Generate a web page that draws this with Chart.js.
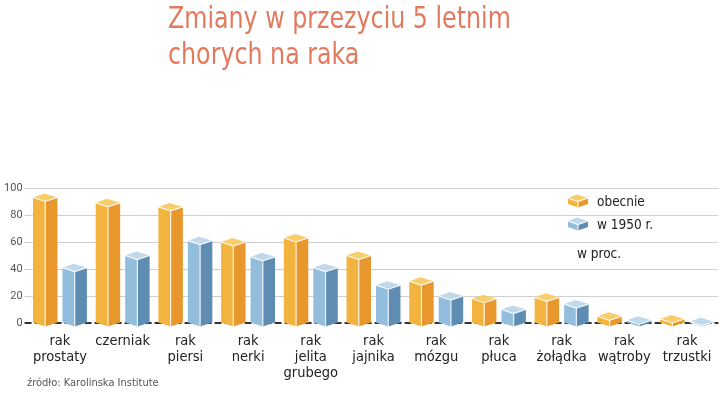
<!DOCTYPE html>
<html>
<head>
<meta charset="utf-8">
<script src="https://cdn.jsdelivr.net/npm/chart.js"></script>
<style>
  body { margin: 0; background: #fff; }
  #wrap { position: relative; width: 720px; height: 394px; }
  canvas { position: absolute; left: 0; top: 0; }
  #title {
    position: absolute; left: 168px; top: 0px;
    font: 30px/36px 'Liberation Sans Narrow', 'DejaVu Sans Condensed', Roboto, sans-serif;
    color: #e27a5e;
    transform: scaleX(0.88); transform-origin: left top;
    white-space: nowrap;
  }
  #src {
    position: absolute; left: 27px; top: 376px;
    font: 11px 'Liberation Sans Narrow', 'DejaVu Sans Condensed', Roboto, sans-serif;
    color: #555;
  }
</style>
</head>
<body>
<div id="wrap">
  <canvas id="chart" width="720" height="394"></canvas>
  <div id="title">Zmiany w przezyciu 5 letnim<br>chorych na raka</div>
  <div id="src">źródło: Karolinska Institute</div>
</div>
<script>
// dane
const categories = [['rak', 'prostaty'], 'czerniak', ['rak', 'piersi'], ['rak', 'nerki'],
  ['rak', 'jelita', 'grubego'], ['rak', 'jajnika'], ['rak', 'mózgu'], ['rak', 'płuca'],
  ['rak', 'żołądka'], ['rak', 'wątroby'], ['rak', 'trzustki']];
const obecnie = [93, 89, 86, 60, 63, 50, 31, 18, 19, 5, 3];
const w1950 = [41, 50, 61, 49, 41, 28, 20, 10, 14, 2, 1];
const yTicks = [0, 20, 40, 60, 80, 100];
const seriesNames = ['obecnie', 'w 1950 r.'];
const unitLabel = 'w proc.';

const narrow = "'Liberation Sans Narrow', 'DejaVu Sans Condensed', Roboto, sans-serif";

// kolory ścian: lewa, prawa, góra
const orangeFaces = ['#f3b33f', '#e8972c', '#f8cd6c'];
const blueFaces = ['#93bddc', '#5f8cb2', '#c0d8eb'];

// rysuje słupek 3D
function drawPrism(ctx, cx, w, top, base, d, faces) {
  const L = cx - w / 2, R = cx + w / 2;
  ctx.save();
  ctx.fillStyle = faces[0];
  ctx.beginPath();
  ctx.moveTo(L, top); ctx.lineTo(cx, top + d); ctx.lineTo(cx, base + d); ctx.lineTo(L, base);
  ctx.closePath(); ctx.fill();
  ctx.fillStyle = faces[1];
  ctx.beginPath();
  ctx.moveTo(cx, top + d); ctx.lineTo(R, top); ctx.lineTo(R, base); ctx.lineTo(cx, base + d);
  ctx.closePath(); ctx.fill();
  ctx.fillStyle = faces[2];
  ctx.beginPath();
  ctx.moveTo(L, top); ctx.lineTo(cx - 1, top - d); ctx.lineTo(R, top); ctx.lineTo(cx, top + d);
  ctx.closePath(); ctx.fill();
  // białe krawędzie
  ctx.strokeStyle = 'rgba(255,255,255,0.85)';
  ctx.lineWidth = 1.2;
  ctx.beginPath();
  ctx.moveTo(L, top); ctx.lineTo(cx, top + d); ctx.lineTo(R, top);
  ctx.moveTo(cx, top + d); ctx.lineTo(cx, base + d);
  ctx.stroke();
  ctx.restore();
}

const prismPlugin = {
  id: 'prism',
  beforeDatasetsDraw(chart) {
    // przerywana linia zera
    const ctx = chart.ctx;
    const y0 = chart.scales.y.getPixelForValue(0);
    ctx.save();
    ctx.strokeStyle = '#333';
    ctx.lineWidth = 2;
    ctx.setLineDash([7, 3]);
    ctx.beginPath();
    ctx.moveTo(chart.chartArea.left - 4, y0);
    ctx.lineTo(chart.chartArea.right, y0);
    ctx.stroke();
    ctx.restore();
  },
  afterDatasetsDraw(chart) {
    const ctx = chart.ctx;
    chart.data.datasets.forEach((ds, i) => {
      chart.getDatasetMeta(i).data.forEach(bar => {
        drawPrism(ctx, bar.x, bar.width, bar.y, bar.base, 4, ds.faces);
      });
    });
  },
  afterDraw(chart) {
    // legenda
    const ctx = chart.ctx;
    const facesList = [orangeFaces, blueFaces];
    ctx.save();
    ctx.font = '13.5px ' + narrow;
    ctx.fillStyle = '#222';
    ctx.textBaseline = 'middle';
    seriesNames.forEach((name, i) => {
      const cy = 202 + i * 23;
      drawPrism(ctx, 578, 20, cy - 4, cy + 2, 3.5, facesList[i]);
      ctx.fillText(name, 597, cy);
    });
    ctx.fillText(unitLabel, 577, 254);
    ctx.restore();
  }
};

const ctx = document.getElementById('chart').getContext('2d');
const chart = new Chart(ctx, {
  type: 'bar',
  data: {
    labels: categories,
    datasets: [
      { label: seriesNames[0], data: obecnie, faces: orangeFaces, backgroundColor: 'rgba(0,0,0,0)' },
      { label: seriesNames[1], data: w1950, faces: blueFaces, backgroundColor: 'rgba(0,0,0,0)' }
    ]
  },
  options: {
    responsive: false,
    animation: false,
    categoryPercentage: 0.94,
    barPercentage: 0.83,
    layout: { padding: { top: 188, right: 1.6, left: 0, bottom: 0 } },
    plugins: { legend: { display: false }, tooltip: { enabled: false } },
    scales: {
      x: {
        grid: { display: false },
        border: { display: false },
        ticks: { color: '#222', font: { family: narrow, size: 14.5, lineHeight: 1.12 }, padding: 2, maxRotation: 0, autoSkip: false },
        afterFit(scale) { scale.height = 71; }
      },
      y: {
        min: 0, max: 100,
        afterBuildTicks(scale) { scale.ticks = yTicks.map(v => ({ value: v })); },
        grid: {
          color: c => c.tick && c.tick.value === 0 ? 'rgba(0,0,0,0)' : '#cfcfcf',
          tickLength: 4
        },
        border: { display: false },
        ticks: { color: '#555', font: { family: 'Roboto, sans-serif', size: 11 }, padding: 2 },
        afterFit(scale) { scale.width = 28.6; }
      }
    }
  },
  plugins: [prismPlugin]
});
</script>
</body>
</html>
